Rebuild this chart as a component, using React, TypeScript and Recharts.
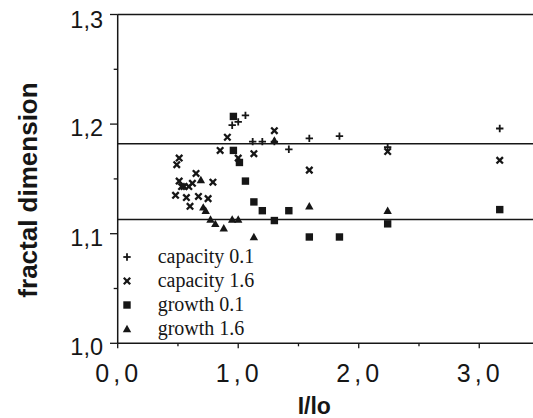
import React from "react";
import {
  ScatterChart,
  Scatter,
  XAxis,
  YAxis,
  ReferenceLine,
  Legend,
  Label,
} from "recharts";

// values
const cap01X = [0.95, 1.0, 1.06, 1.12, 1.2, 1.3, 1.42, 1.59, 1.84, 2.24, 3.17];
const cap01Y = [1.199, 1.202, 1.208, 1.184, 1.184, 1.184, 1.177, 1.187, 1.189, 1.179, 1.196];

const cap16X = [0.48, 0.49, 0.51, 0.51, 0.53, 0.55, 0.57, 0.59, 0.6, 0.62, 0.65, 0.67, 0.75, 0.79, 0.85, 0.91, 1.0, 1.13, 1.3, 1.59, 2.24, 3.17];
const cap16Y = [1.135, 1.163, 1.169, 1.148, 1.143, 1.143, 1.133, 1.143, 1.125, 1.146, 1.155, 1.134, 1.132, 1.147, 1.176, 1.188, 1.169, 1.173, 1.194, 1.158, 1.175, 1.167];

const gro01X = [0.96, 0.96, 1.01, 1.06, 1.13, 1.2, 1.3, 1.42, 1.59, 1.84, 2.24, 3.17];
const gro01Y = [1.207, 1.176, 1.165, 1.148, 1.129, 1.121, 1.112, 1.121, 1.097, 1.097, 1.109, 1.122];

const gro16X = [0.69, 0.71, 0.73, 0.77, 0.81, 0.88, 0.95, 1.0, 1.13, 1.3, 1.59, 2.24];
const gro16Y = [1.149, 1.124, 1.121, 1.113, 1.109, 1.105, 1.113, 1.113, 1.097, 1.185, 1.125, 1.121];

const fitLines = [1.182, 1.113];
const xTicks = [0, 0.5, 1, 1.5, 2, 2.5, 3];
const yTicks = [1.0, 1.05, 1.1, 1.15, 1.2, 1.25, 1.3];
const seriesNames = ["capacity 0.1", "capacity 1.6", "growth 0.1", "growth 1.6"];

const zip = (xs: number[], ys: number[]) => xs.map((x, i) => ({ x, y: ys[i] }));

const INK = "#161616";
const SANS = "'Liberation Sans', Arial, Helvetica, sans-serif";
const SERIF = "'Liberation Serif', 'Times New Roman', serif";

const fmt = (v: number) => v.toFixed(1).replace(".", ",");

// marker shapes
const Plus = ({ cx, cy }: any) => (
  <g stroke={INK} strokeWidth={1.8}>
    <line x1={cx - 3.7} x2={cx + 3.7} y1={cy} y2={cy} />
    <line x1={cx} x2={cx} y1={cy - 3.7} y2={cy + 3.7} />
  </g>
);
const Cross = ({ cx, cy }: any) => (
  <g stroke={INK} strokeWidth={2.3}>
    <line x1={cx - 3.2} x2={cx + 3.2} y1={cy - 3.2} y2={cy + 3.2} />
    <line x1={cx - 3.2} x2={cx + 3.2} y1={cy + 3.2} y2={cy - 3.2} />
  </g>
);
const Square = ({ cx, cy }: any) => (
  <rect x={cx - 3.7} y={cy - 3.7} width={7.4} height={7.4} fill={INK} />
);
const Triangle = ({ cx, cy }: any) => (
  <polygon points={`${cx},${cy - 4.2} ${cx - 4.2},${cy + 3.2} ${cx + 4.2},${cy + 3.2}`} fill={INK} />
);
const shapes = [Plus, Cross, Square, Triangle];

const XTick = ({ x, y, payload }: any) => {
  const v = payload.value;
  const major = Number.isInteger(v);
  return (
    <g>
      <line x1={x} x2={x} y1={y} y2={y + (major ? 5 : 3)} stroke={INK} strokeWidth={1.3} />
      {major && (
        <text x={x + 1} y={y + 38.2} textAnchor="middle" fontFamily={SANS} fontSize={25} letterSpacing={4} fill={INK}>
          {fmt(v)}
        </text>
      )}
    </g>
  );
};

const YTick = ({ x, y, payload }: any) => {
  const v = payload.value;
  const major = Math.abs(v * 10 - Math.round(v * 10)) < 1e-6;
  return (
    <g>
      <line x1={x - (major ? 7.7 : 4)} x2={x} y1={y} y2={y} stroke={INK} strokeWidth={1.3} />
      {major && (
        <text x={x - 14.7} y={y + (v > 1.29 ? 13.9 : 11.8)} textAnchor="end" fontFamily={SANS} fontSize={23.5} fill={INK}>
          {fmt(v)}
        </text>
      )}
    </g>
  );
};

const renderLegend = () => (
  <div style={{ fontFamily: SERIF, fontSize: 20, color: INK }}>
    {seriesNames.map((name, i) => {
      const Shape = shapes[i];
      return (
        <div key={name} style={{ height: 24.2, lineHeight: "24.2px", position: "relative", whiteSpace: "nowrap" }}>
          <svg width={12} height={12} style={{ position: "absolute", left: 2.7, top: 6.1 }}>
            <Shape cx={6} cy={6} />
          </svg>
          <span style={{ position: "absolute", left: 39.7, top: -1 }}>{name}</span>
        </div>
      );
    })}
  </div>
);

export default function App() {
  const series = [zip(cap01X, cap01Y), zip(cap16X, cap16Y), zip(gro01X, gro01Y), zip(gro16X, gro16Y)];
  return (
    <div style={{ position: "absolute", left: 0, top: 0, width: 533, height: 418, background: "#fff" }}>
      <ScatterChart width={533} height={418} margin={{ top: 14.5, right: 0, bottom: 0, left: 0 }}>
        <XAxis
          type="number"
          dataKey="x"
          domain={[0, 3.446]}
          ticks={xTicks}
          allowDataOverflow
          height={74.7}
          axisLine={{ stroke: INK, strokeWidth: 1.5 }}
          tickLine={false}
          tickSize={0}
          tickMargin={0}
          tick={<XTick />}
          interval={0}
        >
          <Label
            content={() => (
              <text x={314.3} y={413.5} textAnchor="middle" fontFamily={SANS} fontWeight="bold" fontSize={23} fill={INK}>
                I/lo
              </text>
            )}
          />
        </XAxis>
        <YAxis
          type="number"
          dataKey="y"
          domain={[1.0, 1.3]}
          ticks={yTicks}
          allowDataOverflow
          width={117.7}
          axisLine={{ stroke: INK, strokeWidth: 1.5 }}
          tickLine={false}
          tickSize={0}
          tickMargin={0}
          tick={<YTick />}
          interval={0}
        >
          <Label
            content={() => (
              <text
                x={36.7}
                y={190}
                transform="rotate(-90 36.7 190)"
                textAnchor="middle"
                fontFamily={SANS}
                fontWeight="bold"
                fontSize={26}
                fill={INK}
              >
                fractal dimension
              </text>
            )}
          />
        </YAxis>
        <ReferenceLine y={1.3} stroke={INK} strokeWidth={1.5} ifOverflow="extendDomain" />
        {fitLines.map((v) => (
          <ReferenceLine key={v} y={v} stroke={INK} strokeWidth={1.5} />
        ))}
        {series.map((data, i) => (
          <Scatter key={seriesNames[i]} name={seriesNames[i]} data={data} shape={shapes[i]} isAnimationActive={false} />
        ))}
        <Legend
          content={renderLegend}
          layout="vertical"
          align="center"
          verticalAlign="middle"
          wrapperStyle={{ left: 118, top: 244.6, width: 200, height: 97 }}
        />
      </ScatterChart>
    </div>
  );
}
